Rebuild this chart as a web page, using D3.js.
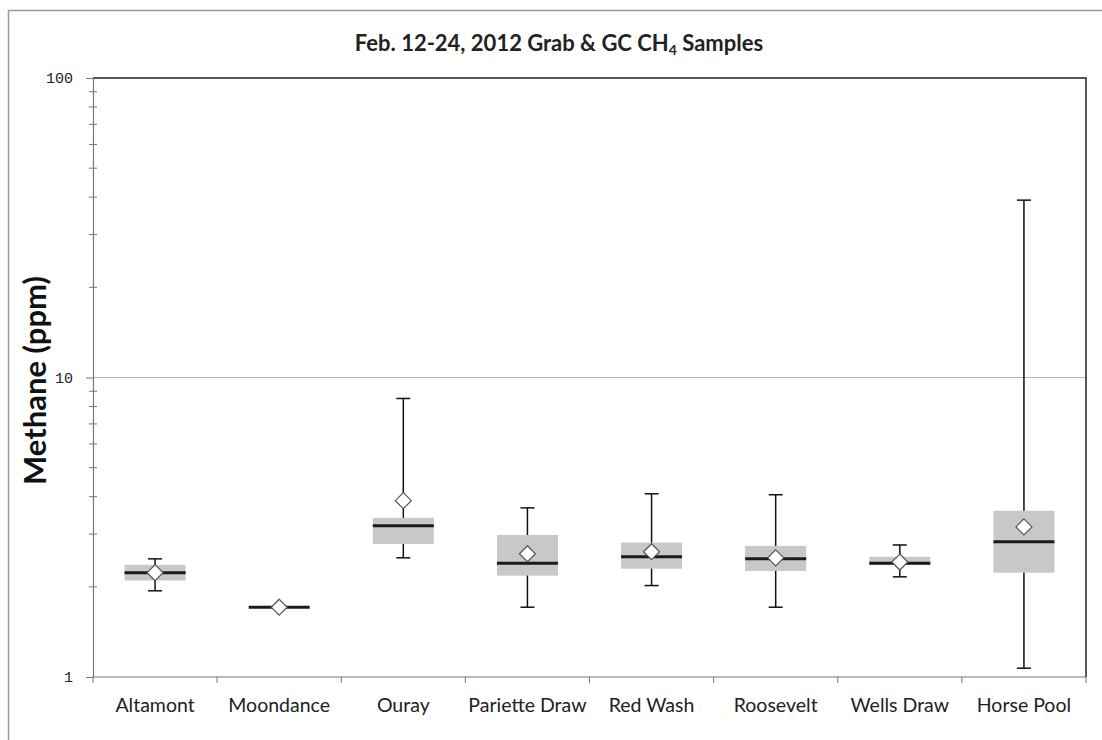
<!DOCTYPE html>
<html><head><meta charset="utf-8">
<script src="https://cdn.jsdelivr.net/npm/d3@7"></script>
<style>body{margin:0;background:#fff}svg{display:block}</style>
</head><body>
<script>
const categories = ["Altamont","Moondance","Ouray","Pariette Draw","Red Wash","Roosevelt","Wells Draw","Horse Pool"];
const whiskerLow  = [1.94, 1.71, 2.50, 1.71, 2.02, 1.71, 2.16, 1.07];
const boxLow      = [2.10, 1.71, 2.78, 2.18, 2.30, 2.26, 2.37, 2.23];
const medians     = [2.23, 1.71, 3.20, 2.40, 2.52, 2.48, 2.40, 2.83];
const boxHigh     = [2.37, 1.71, 3.40, 2.98, 2.81, 2.74, 2.52, 3.59];
const whiskerHigh = [2.48, 1.71, 8.51, 3.67, 4.09, 4.06, 2.76, 39.1];
const means       = [2.23, 1.71, 3.88, 2.58, 2.62, 2.50, 2.42, 3.17];
const yTicks = [1, 10, 100];

const W = 1102, H = 740;
const m = {left: 93, right: 1086, top: 78, bottom: 677};
const svg = d3.select("body").append("svg").attr("width", W).attr("height", H);

// outer frame
svg.append("rect").attr("x", 8.5).attr("y", 10.5).attr("width", 1200).attr("height", 1000)
  .attr("fill", "none").attr("stroke", "#9a9a9a").attr("stroke-width", 1.5);

const x = d3.scaleBand().domain(categories).range([m.left, m.right]);
const y = d3.scaleLog().domain([1, 100]).range([m.bottom, m.top]);

// gridline at 10
svg.append("line").attr("x1", m.left).attr("x2", m.right).attr("y1", y(10)).attr("y2", y(10))
  .attr("stroke", "#b8b8b8").attr("stroke-width", 1);

// plot border top/right
svg.append("path").attr("d", `M${m.left},${m.top}H${m.right}V${m.bottom}`)
  .attr("fill", "none").attr("stroke", "#222").attr("stroke-width", 1.5);

// y axis
const minor = [];
for (let d = 1; d < 100; d *= 10) for (let k = 2; k <= 9; k++) minor.push(d * k);
const yAxisG = svg.append("g").attr("transform", `translate(${m.left},0)`);
yAxisG.selectAll(".mn").data(minor).join("line")
  .attr("x1", -4).attr("x2", 4).attr("y1", d => y(d)).attr("y2", d => y(d))
  .attr("stroke", "#777").attr("stroke-width", 1);
const yAxis = d3.axisLeft(y).tickValues(yTicks).tickFormat(d3.format("d")).tickSize(7).tickPadding(13);
yAxisG.call(yAxis);
yAxisG.select(".domain").attr("stroke", "#777").attr("stroke-width", 1.2);
yAxisG.selectAll(".tick line").attr("stroke", "#777");
yAxisG.selectAll(".tick text").attr("font-family", "'Liberation Mono', monospace")
  .attr("font-size", 15).attr("fill", "#222");

// x axis
const xAxisG = svg.append("g").attr("transform", `translate(0,${m.bottom})`);
xAxisG.append("line").attr("x1", m.left).attr("x2", m.right).attr("stroke", "#777").attr("stroke-width", 1.2);
const bounds = categories.map(c => x(c)).concat([m.right]);
xAxisG.selectAll(".bt").data(bounds).join("line")
  .attr("x1", d => d).attr("x2", d => d).attr("y1", 0).attr("y2", 6)
  .attr("stroke", "#777");
xAxisG.selectAll(".lbl").data(categories).join("text")
  .attr("x", d => x(d) + x.bandwidth() / 2).attr("y", 35).attr("text-anchor", "middle")
  .attr("font-family", "Lato, 'Open Sans', sans-serif").attr("font-size", 19.5).attr("fill", "#222")
  .text(d => d);

// boxes
const bw = 61, cap = 14, dm = 8;
const g = svg.append("g");
categories.forEach((c, i) => {
  const cx = x(c) + x.bandwidth() / 2;
  if (whiskerHigh[i] > whiskerLow[i]) {
    g.append("line").attr("x1", cx).attr("x2", cx).attr("y1", y(whiskerLow[i])).attr("y2", y(whiskerHigh[i]))
      .attr("stroke", "#111").attr("stroke-width", 1.5);
    [whiskerLow[i], whiskerHigh[i]].forEach(v => {
      g.append("line").attr("x1", cx - cap / 2).attr("x2", cx + cap / 2).attr("y1", y(v)).attr("y2", y(v))
        .attr("stroke", "#111").attr("stroke-width", 1.5);
    });
  }
  g.append("rect").attr("x", cx - bw / 2).attr("width", bw)
    .attr("y", y(boxHigh[i])).attr("height", Math.max(0, y(boxLow[i]) - y(boxHigh[i])))
    .attr("fill", "#c8c8c8");
  g.append("line").attr("x1", cx - bw / 2).attr("x2", cx + bw / 2).attr("y1", y(medians[i])).attr("y2", y(medians[i]))
    .attr("stroke", "#1a1a1a").attr("stroke-width", 3);
  const my = y(means[i]);
  g.append("path").attr("d", `M${cx},${my - dm}L${cx + dm},${my}L${cx},${my + dm}L${cx - dm},${my}Z`)
    .attr("fill", "#fff").attr("stroke", "#555").attr("stroke-width", 1.2);
});

// title
const t = svg.append("text").attr("x", 559).attr("y", 51).attr("text-anchor", "middle")
  .attr("font-family", "Lato, 'Open Sans', sans-serif").attr("font-weight", "bold").attr("font-size", 22).attr("fill", "#222");
t.append("tspan").text("Feb. 12-24, 2012 Grab & GC CH");
t.append("tspan").attr("font-size", 14).attr("dy", 4).text("4");
t.append("tspan").attr("dy", -4).text(" Samples");

// y title
svg.append("text").attr("transform", `translate(46,${(m.top + m.bottom) / 2 + 3}) rotate(-90)`)
  .attr("text-anchor", "middle").attr("font-family", "Lato, 'Open Sans', sans-serif")
  .attr("font-weight", "bold").attr("font-size", 31).attr("fill", "#111").text("Methane (ppm)");
</script>
</body></html>
